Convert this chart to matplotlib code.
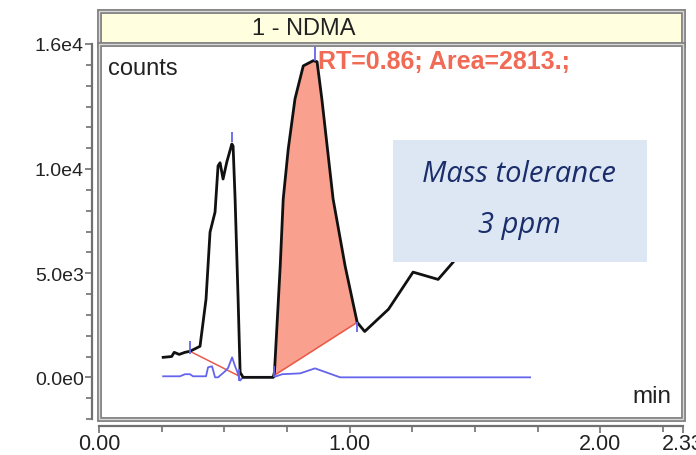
import numpy as np
import matplotlib
matplotlib.use("Agg")
import matplotlib.pyplot as plt
from matplotlib.patches import Rectangle
from matplotlib.ticker import FixedLocator, MultipleLocator

plt.rcParams['font.family'] = ['Liberation Sans', 'DejaVu Sans']

# chromatogram (black), retention time in min, intensity in counts
t_black = [0.256, 0.29, 0.30, 0.32, 0.343, 0.363, 0.403, 0.427, 0.443, 0.463, 0.475,
           0.483, 0.495, 0.51, 0.53, 0.535, 0.543, 0.555, 0.563, 0.575, 0.695, 0.70,
           0.723, 0.735, 0.755, 0.782, 0.815, 0.855, 0.870, 0.889, 0.934, 0.982, 1.03,
           1.06, 1.155, 1.253, 1.353, 1.413, 1.47]
c_black = [960, 1000, 1200, 1100, 1200, 1250, 1490, 3750, 6970, 7930, 10150,
           10300, 9520, 10340, 11200, 11100, 8560, 3750, 240, 0, 0, 250,
           5340, 8560, 10960, 13370, 14950, 15200, 15150, 13370, 8560, 5340, 2640,
           2200, 3270, 5050, 4700, 5530, 6500]

# second trace (blue)
t_blue = [0.256, 0.323, 0.343, 0.363, 0.375, 0.427, 0.435, 0.451, 0.463, 0.475, 0.503,
          0.515, 0.531, 0.543, 0.551, 0.563, 0.575, 0.695, 0.731, 0.802, 0.862, 0.962, 1.72]
c_blue = [50, 50, 150, 150, 50, 50, 480, 530, 0, 0, 290,
          450, 960, 530, 290, -150, 0, 0, 150, 190, 430, 0, 0]

# integration baselines: (start t, start c, end t, end c)
base1 = [0.363, 1250, 0.556, 80]
base2 = [0.70, 100, 1.03, 2640]

# blue markers: t, low, high
mark_t = [0.363, 0.557, 0.53, 0.70, 1.03, 0.86]
mark_lo = [1100, -190, 11300, 0, 2160, 15200]
mark_hi = [1730, 390, 11780, 560, 2640, 15900]

peak_label = "RT=0.86; Area=2813.;"
title = "1 - NDMA"
ytick_vals = [0, 5000, 10000, 16000]
ytick_labels = ["0.0e0", "5.0e3", "1.0e4", "1.6e4"]
xtick_vals = [0, 1, 2, 2.33]
xtick_labels = ["0.00", "1.00", "2.00", "2.33"]

W, H = 696, 456
fig = plt.figure(figsize=(W / 100, H / 100), dpi=100)

# header strip
hx = fig.add_axes([99 / W, 1 - 46 / H, 584 / W, 34 / H])
hx.set_facecolor('#ffffe0')
hx.set_xticks([])
hx.set_yticks([])
for s in hx.spines.values():
    s.set_visible(False)
hx.add_patch(Rectangle((0, 0), 1, 1, transform=hx.transAxes, fill=False,
                       ec='#808080', lw=3.5, clip_on=False))
hx.add_patch(Rectangle((0, 0), 1, 1, transform=hx.transAxes, fill=False,
                       ec='#d8d8d8', lw=1, clip_on=False))
fig.text(304 / W, 1 - 29 / H, title, ha='center', va='center', fontsize=17, color='#222222')

ax = fig.add_axes([99 / W, 1 - 420 / H, 584 / W, 375 / H])
ax.set_xlim(0, 2.33)
ax.set_ylim(-2000, 16000)

tb = np.array(t_black)
cb = np.array(c_black)

# filled main peak
m = (tb >= base2[0]) & (tb <= base2[2])
pt = tb[m]
pc = cb[m]
bl = np.interp(pt, [base2[0], base2[2]], [base2[1], base2[3]])
ax.fill_between(pt, bl, pc, color='#f9a08f', lw=0, zorder=1)
ax.plot([base2[0], base2[2]], [base2[1], base2[3]], color='#ea5a4a', lw=1.1, zorder=2)
ax.plot([base1[0], base1[2]], [base1[1], base1[3]], color='#ea5a4a', lw=1.1, zorder=2)

ax.plot(t_blue, c_blue, color='#6464ec', lw=1.3, zorder=2)
ax.plot(t_black, c_black, color='#111111', lw=2.0, zorder=3)
ax.vlines(mark_t, mark_lo, mark_hi, color='#6464ec', lw=1.3, zorder=4)

ax.text(0.874, 15190, peak_label, color='#f06a55', fontsize=18, fontweight='bold',
        ha='left', va='center', zorder=4)
ax.text(0.015, 0.935, "counts", transform=ax.transAxes, fontsize=17, color='#222222',
        ha='left', va='center')
ax.text(0.981, 0.06, "min", transform=ax.transAxes, fontsize=17.5, color='#222222',
        ha='right', va='center')

# frame (double grey line)
ax.add_patch(Rectangle((0, 0), 1, 1, transform=ax.transAxes, fill=False,
                       ec='#808080', lw=3.5, clip_on=False, zorder=6))
ax.add_patch(Rectangle((0, 0), 1, 1, transform=ax.transAxes, fill=False,
                       ec='#d8d8d8', lw=1, clip_on=False, zorder=6))

# annotation box
ax.add_patch(Rectangle((393 / W, 1 - 263 / H), 254 / W, 122 / H, transform=fig.transFigure,
                       fc='#dce7f3', ec='none', zorder=7, clip_on=False))
fig.text(519 / W, 1 - 175 / H, "Mass tolerance", ha='center', va='center', fontsize=21,
         style='italic', family=['Open Sans', 'DejaVu Sans'], color='#1b2d6b', zorder=8)
fig.text(519 / W, 1 - 225 / H, "3 ppm", ha='center', va='center', fontsize=21,
         style='italic', family=['Open Sans', 'DejaVu Sans'], color='#1b2d6b', zorder=8)

# axes
ax.spines['top'].set_visible(False)
ax.spines['right'].set_visible(False)
ax.spines['left'].set_position(('outward', 5))
ax.spines['bottom'].set_position(('outward', 5))
for s in ('left', 'bottom'):
    ax.spines[s].set_color('#707070')
    ax.spines[s].set_linewidth(1.6)

ax.yaxis.set_major_locator(FixedLocator(ytick_vals))
ax.set_yticklabels(ytick_labels)
ax.yaxis.set_minor_locator(MultipleLocator(1000))
ax.xaxis.set_major_locator(FixedLocator(xtick_vals))
ax.set_xticklabels(xtick_labels)
ax.xaxis.set_minor_locator(MultipleLocator(0.25))

ax.tick_params(axis='y', which='major', length=5, width=1.2, color='#707070',
               labelsize=14, pad=1, labelcolor='#222222')
ax.tick_params(axis='y', which='minor', length=4, width=1.2, color='#707070')
ax.tick_params(axis='x', which='major', length=5, width=1.2, color='#707070',
               labelsize=15.5, pad=0, labelcolor='#222222')
ax.tick_params(axis='x', which='minor', length=4, width=1.2, color='#707070')

fig.savefig("out.png", dpi=100)
